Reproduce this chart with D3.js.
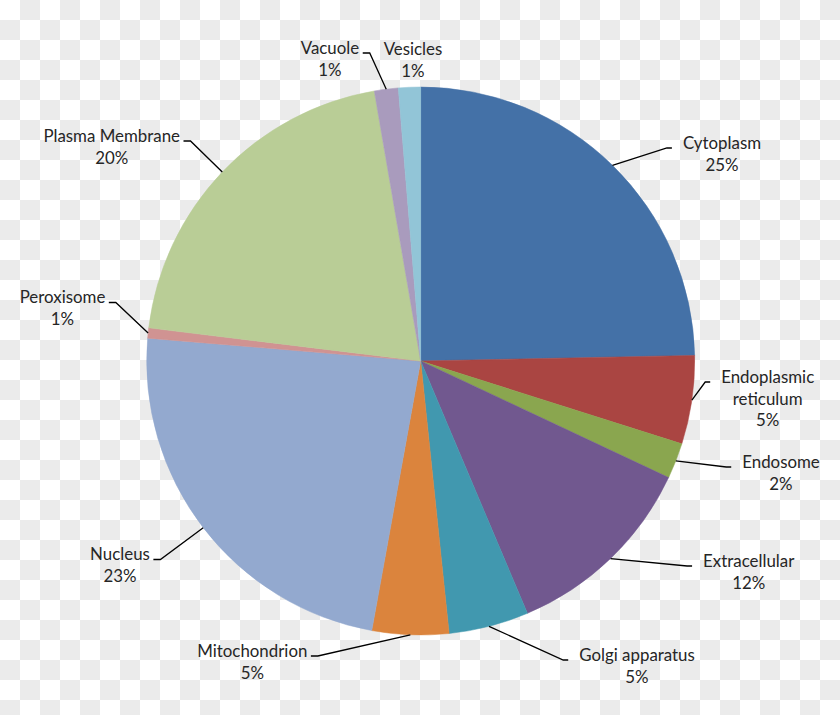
<!DOCTYPE html>
<html>
<head>
<meta charset="utf-8">
<script src="https://cdn.jsdelivr.net/npm/d3@7"></script>
<style>
  html, body { margin: 0; padding: 0; background: #fff; }
  svg { display: block; }
</style>
</head>
<body>
<svg id="chart"></svg>
<script>
// data (shares in percent, clockwise from 12 o'clock)
const categories = ["Cytoplasm", "Endoplasmic reticulum", "Endosome", "Extracellular", "Golgi apparatus",
  "Mitochondrion", "Nucleus", "Peroxisome", "Plasma Membrane", "Vacuole", "Vesicles"];
const shares = [24.6, 5.2, 2.1, 11.6, 4.7, 4.5, 23.4, 0.6, 20.3, 1.4, 1.3];
const colors = ["#4471a7", "#aa4542", "#8aa64f", "#71588f", "#4198af", "#db843d",
  "#93a9cf", "#d09392", "#b9cd96", "#a99bbd", "#92c5d7"];

const width = 840, height = 715;
const cx = 420.7, cy = 361, radius = 274;
const lineGap = 21.7;

// hand placed label spots (centre of the first text line), Excel "best fit" style
const labelLayout = {
  "Cytoplasm":             { x: 722,   y: 143,   side: "left" },
  "Endoplasmic reticulum": { x: 767.7, y: 377,   side: "left", wrap: true },
  "Endosome":              { x: 781,   y: 462,   side: "left" },
  "Extracellular":         { x: 748.7, y: 561,   side: "left" },
  "Golgi apparatus":       { x: 637,   y: 655,   side: "left" },
  "Mitochondrion":         { x: 252.3, y: 651,   side: "right" },
  "Nucleus":               { x: 120,   y: 554.5, side: "right" },
  "Peroxisome":            { x: 62.5,  y: 297.5, side: "right" },
  "Plasma Membrane":       { x: 111.7, y: 136,   side: "right" },
  "Vacuole":               { x: 330,   y: 48,    side: "right" },
  "Vesicles":              { x: 413,   y: 49,    side: null }
};

const data = categories.map((name, i) => ({ name, value: shares[i], color: colors[i] }));
const total = d3.sum(shares);

const svg = d3.select("#chart")
  .attr("width", width)
  .attr("height", height);

// transparent-png checkerboard behind the chart
const defs = svg.append("defs");
const pat = defs.append("pattern")
  .attr("id", "checker")
  .attr("width", 40)
  .attr("height", 40)
  .attr("patternUnits", "userSpaceOnUse");
pat.append("rect").attr("width", 40).attr("height", 40).attr("fill", "#ffffff");
pat.append("rect").attr("x", 20).attr("y", 0).attr("width", 20).attr("height", 20).attr("fill", "#ebebeb");
pat.append("rect").attr("x", 0).attr("y", 20).attr("width", 20).attr("height", 20).attr("fill", "#ebebeb");

svg.append("rect")
  .attr("width", width)
  .attr("height", height)
  .attr("fill", "url(#checker)");

const pie = d3.pie()
  .sort(null)
  .value(d => d.value);

const arc = d3.arc()
  .innerRadius(0)
  .outerRadius(radius);

const edgeArc = d3.arc()
  .innerRadius(radius)
  .outerRadius(radius);

const arcs = pie(data);

const g = svg.append("g")
  .attr("transform", `translate(${cx},${cy})`);

g.selectAll(".slice")
  .data(arcs)
  .enter()
  .append("path")
  .attr("class", "slice")
  .attr("d", arc)
  .attr("fill", d => d.data.color)
  .attr("stroke", d => d.data.color)
  .attr("stroke-width", 0.5);

// fit the label font so it runs about as wide as the Calibri text in the picture
const fontFamily = "Lato, 'Open Sans', sans-serif";
const probe = svg.append("text")
  .attr("font-family", fontFamily)
  .attr("font-size", 18)
  .text("Plasma Membrane");
const fontSize = 18 * 136.7 / probe.node().getComputedTextLength();
probe.remove();

const labels = svg.append("g")
  .attr("font-family", fontFamily)
  .attr("font-size", fontSize)
  .attr("fill", "#262626")
  .attr("text-anchor", "middle");

const leaders = svg.append("g")
  .attr("fill", "none")
  .attr("stroke", "#000")
  .attr("stroke-width", 1.3);

arcs.forEach(d => {
  const name = d.data.name;
  const pos = labelLayout[name];
  const pct = Math.round(d.data.value / total * 100) + "%";
  const lines = pos.wrap ? name.split(" ").concat([pct]) : [name, pct];

  const text = labels.append("text")
    .attr("x", pos.x)
    .attr("y", pos.y);

  lines.forEach((line, i) => {
    text.append("tspan")
      .attr("x", pos.x)
      .attr("y", pos.y + i * lineGap)
      .attr("dy", "0.35em")
      .text(line);
  });

  if (!pos.side) return;

  const firstWidth = text.select("tspan").node().getComputedTextLength();
  const [ex, ey] = edgeArc.centroid(d);
  const start = [cx + ex, cy + ey];
  const ay = pos.y + 5;
  let ax, bx;
  if (pos.side === "left") {
    ax = pos.x - firstWidth / 2 - 11;
    bx = ax - 5;
  } else {
    ax = pos.x + firstWidth / 2 + 3.5;
    bx = ax + 7;
  }

  leaders.append("path")
    .attr("d", d3.line()([start, [bx, ay], [ax, ay]]));
});
</script>
</body>
</html>
